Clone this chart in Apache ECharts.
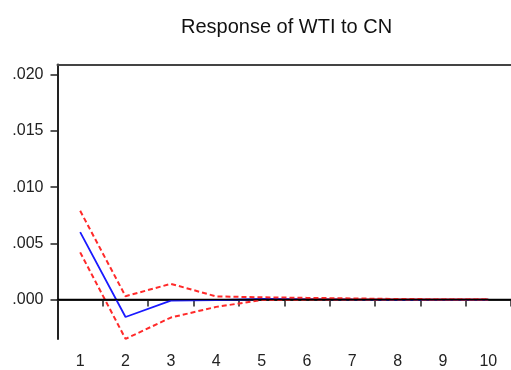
<!DOCTYPE html>
<html><head><meta charset="utf-8">
<script src="https://cdn.jsdelivr.net/npm/echarts@6/dist/echarts.min.js"></script>
<style>html,body{margin:0;padding:0;background:#fff}#c{width:511px;height:370px}</style>
</head><body><div id="c"></div>
<script>
var categories = ['1','2','3','4','5','6','7','8','9','10'];
var response = [0.0060, -0.00155, -0.0001, -0.00005, 0.00005, 0.00003, 0.00001, 0.0, 0.0, 0.0];
var upperBand = [0.0079, 0.0003, 0.0014, 0.00028, 0.0002, 0.00015, 0.0001, 0.00005, 0.00003, 0.00002];
var lowerBand = [0.0042, -0.0035, -0.0016, -0.00065, -0.00005, 0.0, 0.0, 0.0, 0.0, 0.0];
var yTicks = [0, 0.005, 0.010, 0.015, 0.020];

var chart = echarts.init(document.getElementById('c'), null, {renderer: 'canvas'});
var fontFam = '"Liberation Sans", Arial, sans-serif';
chart.setOption({
  animation: false,
  title: {text: 'Response of WTI to CN', left: 176, top: 12,
    textStyle: {fontFamily: fontFam, fontSize: 20, fontWeight: 'normal', color: '#111'}},
  grid: {left: 57.5, top: 64.5, right: -2, bottom: 26, containLabel: false},
  xAxis: [{
    type: 'category', data: categories, boundaryGap: true, position: 'bottom',
    axisLine: {lineStyle: {color: '#222', width: 2}},
    axisTick: {show: true, length: 7, inside: false, lineStyle: {color: '#222', width: 1.5}},
    axisLabel: {fontFamily: fontFam, fontSize: 16, color: '#222', margin: 15},
    splitLine: {show: false}
  }, {
    type: 'category', data: categories, position: 'top',
    axisLine: {lineStyle: {color: '#444', width: 2}},
    axisTick: {show: false}, axisLabel: {show: false}
  }],
  yAxis: {
    type: 'value', min: -0.00351, max: 0.02092,
    axisLine: {show: true, lineStyle: {color: '#222', width: 2}},
    axisTick: {show: true, length: 7, customValues: yTicks, lineStyle: {color: '#222', width: 1.5}},
    axisLabel: {fontFamily: fontFam, fontSize: 16, color: '#222', margin: 14, customValues: yTicks,
      formatter: function (v) { return v.toFixed(3).replace(/^0/, ''); }},
    splitLine: {show: false}
  },
  series: [
    {type: 'line', data: upperBand, symbol: 'none', z: 3,
      lineStyle: {color: '#ff2a2a', width: 2, type: [5, 3]}},
    {type: 'line', data: lowerBand, symbol: 'none', z: 3,
      lineStyle: {color: '#ff2a2a', width: 2, type: [5, 3]}},
    {type: 'line', data: response, symbol: 'none', z: 2,
      lineStyle: {color: '#1a1aff', width: 1.8},
      markLine: {silent: true, symbol: 'none', label: {show: false},
        lineStyle: {color: '#000', width: 1.3, type: 'solid'},
        data: [{yAxis: 0}]}}
  ]
});
</script></body></html>
